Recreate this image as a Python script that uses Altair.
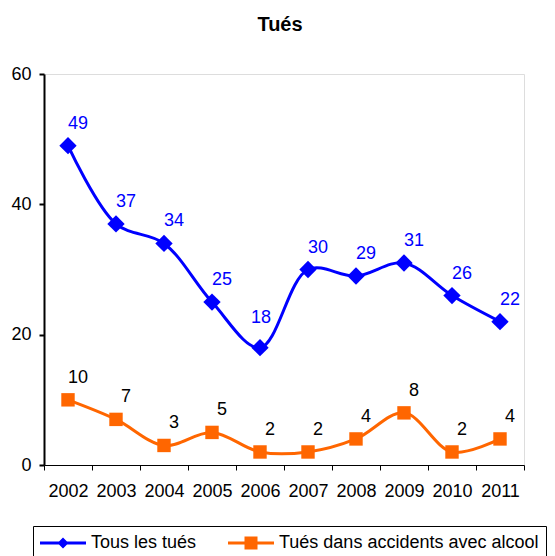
import altair as alt
import pandas as pd

years = ["2002", "2003", "2004", "2005", "2006", "2007", "2008", "2009", "2010", "2011"]
tous = [49, 37, 34, 25, 18, 30, 29, 31, 26, 22]
alcool = [10, 7, 3, 5, 2, 2, 4, 8, 2, 4]
series_names = ["Tous les tués", "Tués dans accidents avec alcool"]
y_ticks = [0, 20, 40, 60]

BLUE = "#0000FF"
ORANGE = "#FF6600"
FONT = "Liberation Sans"

rows = []
for y, v in zip(years, tous):
    rows.append({"year": y, "value": v, "series": series_names[0]})
for y, v in zip(years, alcool):
    rows.append({"year": y, "value": v, "series": series_names[1]})
df = pd.DataFrame(rows)

x_enc = alt.X(
    "year:N",
    bandPosition=0.5,
    scale=alt.Scale(type="band", paddingInner=0, paddingOuter=0, domain=years),
    axis=alt.Axis(
        title=None, labelAngle=0, tickBand="extent", tickSize=5, tickColor="black",
        domainColor="black", domainWidth=1, labelFontSize=18, labelColor="black",
        labelPadding=12, labelFont=FONT, grid=False,
    ),
)
y_enc = alt.Y(
    "value:Q",
    scale=alt.Scale(domain=[0, 60], nice=False),
    axis=alt.Axis(
        title=None, values=y_ticks, tickSize=5, tickWidth=2, tickColor="black",
        domainColor="black", domainWidth=2, labelFontSize=18, labelColor="black",
        labelPadding=8, labelFont=FONT, grid=False,
    ),
)

base = alt.Chart(df).encode(x=x_enc, y=y_enc)

def series_layers(name, color, shape, size, label_color):
    b = base.transform_filter(alt.datum.series == name)
    line = b.mark_line(interpolate="catmull-rom", strokeWidth=3, color=color)
    pts = b.mark_point(shape=shape, filled=True, size=size, color=color, opacity=1)
    txt = b.transform_filter("!(datum.year == '2006' && datum.value == 18)").mark_text(
        dx=10, dy=-22, fontSize=18, font=FONT, color=label_color
    ).encode(text=alt.Text("value:Q"))
    return [line, pts, txt]

path_blue = "M-1,-0.15H3.6V0.15H-1Z M1.3,-0.55L1.85,0L1.3,0.55L0.75,0Z"
path_orange = "M-1,-0.15H3.6V0.15H-1Z M0.65,-0.65H1.95V0.65H0.65Z"

leg = alt.Legend(
    title=None, orient="none", legendX=-11, legendY=452, direction="horizontal",
    columnPadding=31, padding=7, strokeColor="black", fillColor="white",
    labelFontSize=18, labelFont=FONT, labelColor="black", labelOffset=31,
    labelLimit=500, symbolSize=400, symbolStrokeWidth=0,
    labelExpr="datum.index == 1 ? datum.label + '      ' : datum.label",
)
legend_layer = alt.Chart(df).transform_filter("datum.value < 0").mark_point(
    filled=True, opacity=1
).encode(
    color=alt.Color("series:N", scale=alt.Scale(domain=series_names, range=[BLUE, ORANGE]), legend=leg),
    shape=alt.Shape("series:N", scale=alt.Scale(domain=series_names, range=[path_blue, path_orange]), legend=leg),
)

label_18 = base.transform_filter(
    (alt.datum.series == series_names[0]) & (alt.datum.year == "2006")
).mark_text(dx=1, dy=-30, fontSize=18, font=FONT, color=BLUE).encode(text=alt.Text("value:Q"))

layers = (
    series_layers(series_names[0], BLUE, "diamond", 300, BLUE)
    + series_layers(series_names[1], ORANGE, "square", 180, "black")
    + [label_18, legend_layer]
)

chart = alt.layer(*layers).properties(
    width=480,
    height=391,
    autosize=alt.AutoSizeParams(type="none"),
    padding={"left": 36, "top": 66, "right": 23, "bottom": 91},
    title=alt.TitleParams(
        "Tués", fontSize=20, fontWeight="bold", font=FONT, color="black",
        anchor="middle", frame="group", offset=14, baseline="alphabetic", dx=-4,
    ),
).configure_view(stroke=None).configure(font=FONT)

chart.save("out.html", embed_options={"renderer": "svg", "actions": False})
